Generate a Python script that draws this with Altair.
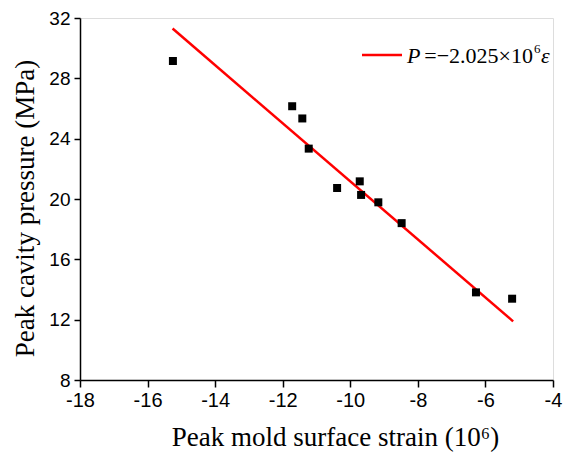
import altair as alt
import pandas as pd

# measured data
strain = [-15.25, -11.72, -11.42, -11.23, -10.39, -9.72, -9.68, -9.17, -8.48, -6.28, -5.21]
pressure = [29.15, 26.15, 25.34, 23.34, 20.73, 21.17, 20.27, 19.78, 18.40, 13.81, 13.39]

# fitted line end points
fit_x = [-15.26, -5.18]
fit_y = [31.30, 11.89]

x_ticks = list(range(-18, -3))
y_ticks = list(range(8, 33, 2))

pts = pd.DataFrame({"x": strain, "y": pressure})
fit = pd.DataFrame({"x": fit_x, "y": fit_y})
one = pd.DataFrame({"a": [0]})

xscale = alt.Scale(domain=[-18, -4], nice=False, zero=False)
yscale = alt.Scale(domain=[8, 32], nice=False, zero=False)

xaxis = alt.Axis(
    values=x_ticks,
    labelExpr="datum.value % 2 == 0 ? toString(datum.value) : ''",
    tickSize={"condition": {"test": "datum.value % 2 == 0", "value": 7}, "value": 4},
    grid=False,
    title="Peak mold surface strain (10⁶)",
    titleFont="Liberation Serif", titleFontSize=27, titleFontWeight="normal",
    titleColor="black", titleX=255, titleY=65, titleBaseline="alphabetic",
    titleAlign="center",
    labelFont="Liberation Sans", labelFontSize=20, labelColor="black",
    labelPadding=3, labelFlush=False, labelOverlap=False,
    domainColor="black", domainWidth=1.5, tickColor="black", tickWidth=1.5,
)
yaxis = alt.Axis(
    values=y_ticks,
    labelExpr="datum.value % 4 == 0 ? toString(datum.value) : ''",
    tickSize={"condition": {"test": "datum.value % 4 == 0", "value": 6}, "value": 3},
    grid=False,
    title="Peak cavity pressure (MPa)",
    titleFont="Liberation Serif", titleFontSize=27, titleFontWeight="normal",
    titleColor="black", titleX=-47, titleY=190, titleBaseline="alphabetic",
    titleAlign="center", titleAngle=270,
    labelFont="Liberation Sans", labelFontSize=19, labelColor="black",
    labelPadding=4, labelFlush=False, labelOverlap=False,
    domainColor="black", domainWidth=1.5, tickColor="black", tickWidth=1.5,
)

points = alt.Chart(pts).mark_square(size=64, color="black", opacity=1).encode(
    x=alt.X("x:Q", scale=xscale, axis=xaxis),
    y=alt.Y("y:Q", scale=yscale, axis=yaxis),
)

line = alt.Chart(fit).mark_line(color="#ff0000", strokeWidth=2.5).encode(
    x=alt.X("x:Q", scale=xscale),
    y=alt.Y("y:Q", scale=yscale),
)

# legend (plot-area pixel offsets; plot origin at page (80, 18))
leg_rule = alt.Chart(one).mark_rule(color="#ff0000", strokeWidth=2.5).encode(
    x=alt.value(282), x2=alt.value(322), y=alt.value(37)
)
leg_p = alt.Chart(one).mark_text(
    text="P", font="Liberation Serif", fontSize=22, fontStyle="italic",
    align="left", baseline="alphabetic", color="black"
).encode(x=alt.value(327), y=alt.value(45))
leg_mid = alt.Chart(one).mark_text(
    text="=−2.025×10", font="Liberation Serif", fontSize=22,
    align="right", baseline="alphabetic", color="black"
).encode(x=alt.value(453), y=alt.value(45))
leg_sup = alt.Chart(one).mark_text(
    text="6", font="Liberation Serif", fontSize=13,
    align="left", baseline="alphabetic", color="black"
).encode(x=alt.value(454), y=alt.value(35))
leg_eps = alt.Chart(one).mark_text(
    text="ε", font="Liberation Serif", fontSize=22, fontStyle="italic",
    align="left", baseline="alphabetic", color="black"
).encode(x=alt.value(461), y=alt.value(45))

chart = alt.layer(line, points, leg_rule, leg_p, leg_mid, leg_sup, leg_eps).properties(
    width=473, height=362,
    autosize=alt.AutoSizeParams(type="none"),
    padding={"left": 72, "top": 10, "right": 27, "bottom": 73},
).configure_view(stroke="black", strokeWidth=1.5).configure(background="white")

chart.save("out.html", embed_options={"renderer": "svg", "actions": False})
